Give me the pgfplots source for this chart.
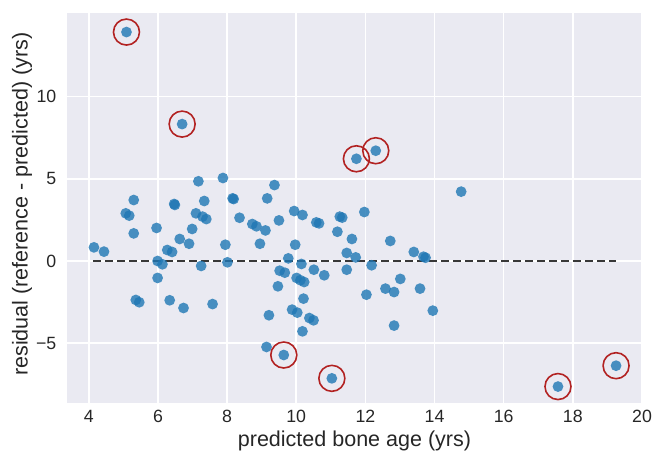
\documentclass[border=0pt]{standalone}
\usepackage{fontspec}
\setmainfont{Liberation Sans}
\usepackage{pgfplots}
\pgfplotsset{compat=1.18}
\definecolor{sbbg}{HTML}{EAEAF2}
\definecolor{ptblue}{HTML}{1F77B4}
\definecolor{ringred}{HTML}{B22222}
\definecolor{txt}{HTML}{262626}

\begin{document}
\begin{tikzpicture}
\begin{axis}[
  name=ax,
  scale only axis,
  width=287.5bp, height=195bp,
  xmin=3.37, xmax=20, ymin=-8.64, ymax=15.09,
  axis background/.style={fill=sbbg},
  axis line style={draw=none},
  major tick length=0pt,
  grid=major,
  grid style={white, line width=0.8bp},
  xtick={4,6,...,20},
  xticklabels={4,6,8,10,12,14,16,18,20},
  ytick={-5,0,5,10},
  yticklabels={−5,0,5,10},
  tick label style={font=\fontsize{8.9}{10}\selectfont, text=txt},
  yticklabel style={xshift=-1.8bp},
  xlabel={predicted bone age (yrs)},
  ylabel={residual (reference - predicted) (yrs)},
  label style={font=\fontsize{10.8}{12}\selectfont, text=txt},
  xlabel style={at={(axis description cs:0.5,-0.0975)}, anchor=center},
  ylabel style={at={(axis description cs:-0.078,0.51)}, anchor=center},
]
% residuals, all points
\addplot[only marks, mark=*, mark size=2.7bp,
  mark options={fill=ptblue, draw=ptblue, draw opacity=0, fill opacity=0.8}]
  table[row sep=\\] {
x y \\
4.15 0.83 \\ 4.44 0.57 \\ 5.30 3.71 \\ 5.07 2.90 \\ 5.17 2.76 \\
5.30 1.68 \\ 5.36 -2.37 \\ 5.46 -2.51 \\ 5.96 2.01 \\ 5.99 0.00 \\
6.13 -0.20 \\ 5.99 -1.03 \\ 6.34 -2.39 \\ 6.47 3.47 \\ 6.49 3.41 \\
6.63 1.34 \\ 6.27 0.67 \\ 6.41 0.55 \\ 6.74 -2.86 \\ 6.90 1.05 \\
6.99 1.95 \\ 7.10 2.90 \\ 7.17 4.85 \\ 7.34 3.65 \\ 7.29 2.70 \\
7.40 2.55 \\ 7.25 -0.30 \\ 7.58 -2.62 \\ 7.88 5.05 \\ 7.95 0.99 \\
8.01 -0.08 \\ 8.16 3.81 \\ 8.19 3.77 \\ 8.36 2.63 \\ 8.73 2.25 \\
8.85 2.11 \\ 8.95 1.05 \\ 9.11 1.86 \\ 9.16 3.81 \\ 9.37 4.62 \\
9.50 2.47 \\ 9.21 -3.30 \\ 9.47 -1.54 \\ 9.14 -5.23 \\ 9.52 -0.59 \\
9.67 -0.71 \\ 9.77 0.16 \\ 9.94 3.04 \\ 9.97 0.99 \\ 9.88 -2.96 \\
10.03 -3.14 \\ 10.01 -1.03 \\ 10.12 -1.17 \\ 10.23 -1.28 \\ 10.15 -0.18 \\
10.18 2.80 \\ 10.21 -2.29 \\ 10.18 -4.28 \\ 10.38 -3.47 \\ 10.50 -3.61 \\
10.51 -0.53 \\ 10.58 2.35 \\ 10.66 2.29 \\ 10.81 -0.87 \\ 11.19 1.78 \\
11.26 2.70 \\ 11.33 2.64 \\ 11.46 0.49 \\ 11.46 -0.53 \\ 11.61 1.34 \\
11.72 0.22 \\ 11.97 2.98 \\ 12.72 1.22 \\ 13.40 0.55 \\ 13.68 0.26 \\
13.74 0.20 \\ 12.18 -0.26 \\ 13.01 -1.09 \\ 12.58 -1.68 \\ 12.83 -1.89 \\
13.58 -1.68 \\ 12.03 -2.05 \\ 13.95 -3.02 \\ 12.83 -3.93 \\ 14.77 4.22 \\
5.09 13.93 \\ 6.70 8.33 \\ 11.74 6.22 \\ 12.30 6.71 \\ 9.64 -5.72 \\
11.03 -7.14 \\ 17.57 -7.64 \\ 19.25 -6.37 \\
};
% zero line
\addplot[black!78, line width=1.4bp, dash pattern=on 4bp off 2bp]
  coordinates {(4.13,0) (19.25,0)};
% circled outliers
\addplot[only marks, mark=o, mark size=6.5bp,
  mark options={draw=ringred, line width=0.8bp}]
  table[row sep=\\] {
x y \\
5.09 13.93 \\ 6.70 8.33 \\ 11.74 6.22 \\ 12.30 6.71 \\
9.64 -5.72 \\ 11.03 -7.14 \\ 17.57 -7.64 \\ 19.25 -6.37 \\
};
\end{axis}
\pgfresetboundingbox
\useasboundingbox ([xshift=-33.5bp,yshift=-26bp]ax.south west)
  rectangle ([xshift=10bp,yshift=6.5bp]ax.north east);
\end{tikzpicture}
\end{document}
